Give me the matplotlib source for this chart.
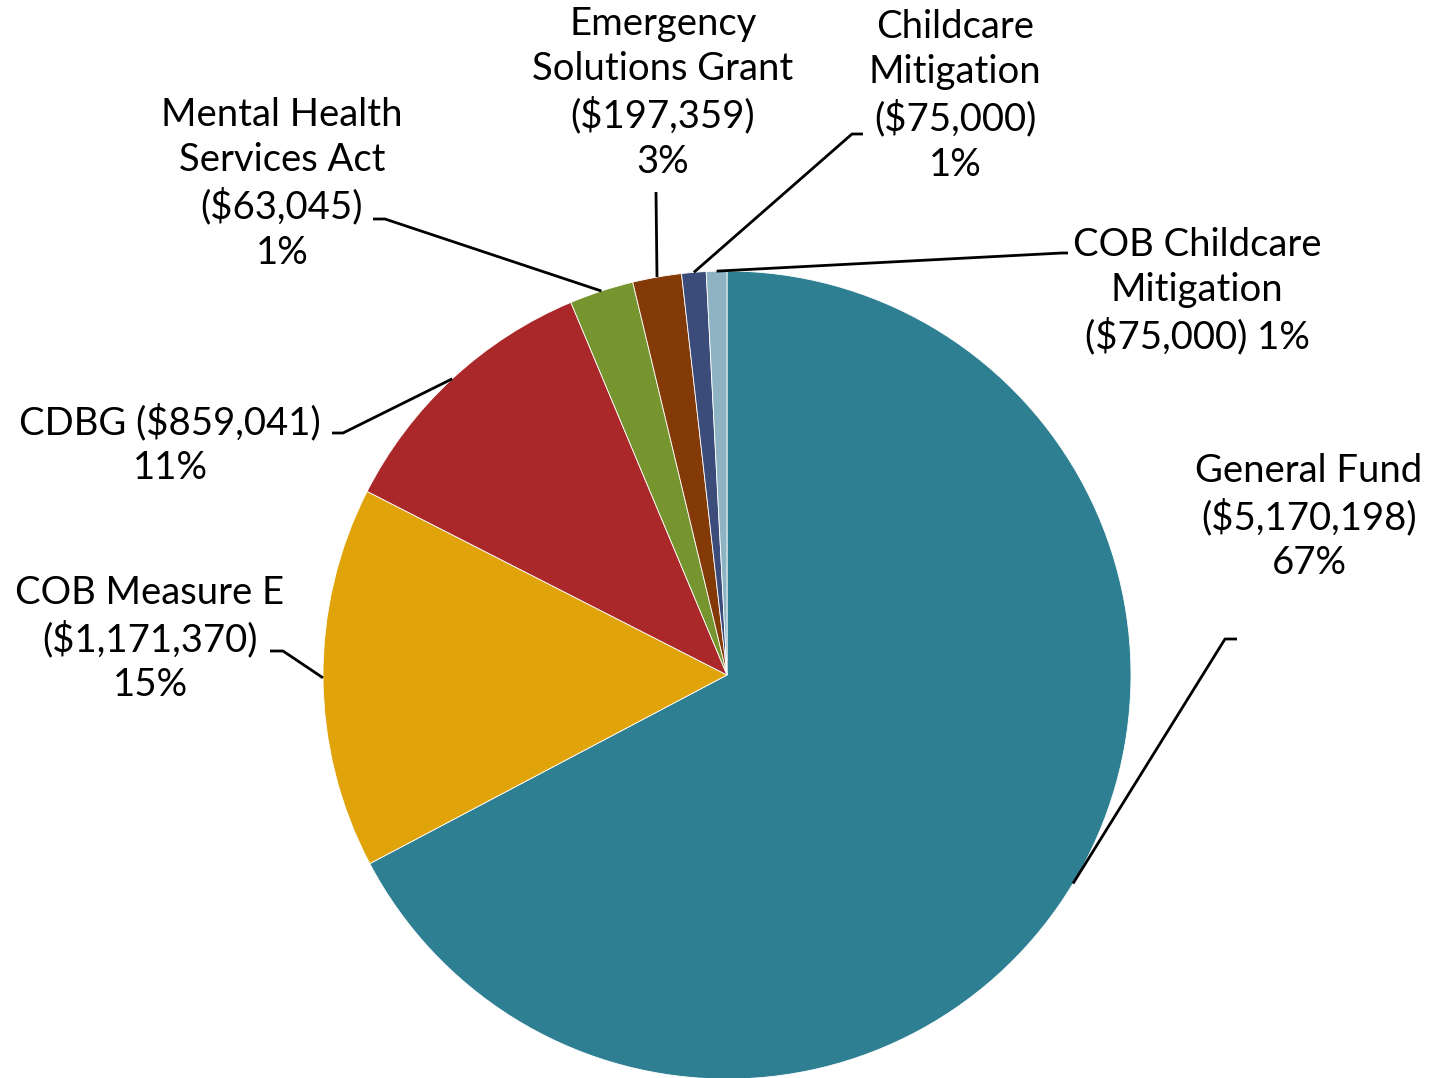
import matplotlib

matplotlib.use("Agg")
import matplotlib.pyplot as plt
import numpy as np

# slice sizes as drawn in the chart (clockwise from 12 o'clock)
slice_values = [5170198, 1171370, 859041, 197359, 150000, 75000, 63045]
colors = ["#2E7F92", "#E0A30A", "#AA282A", "#77952E", "#833A06", "#3C4C7A", "#8EB4C4"]

# label texts as printed next to each slice
names = [
    "General Fund",
    "COB Measure E",
    "CDBG",
    "Mental Health\nServices Act",
    "Emergency\nSolutions Grant",
    "Childcare\nMitigation",
    "COB Childcare\nMitigation",
]
amounts = ["$5,170,198", "$1,171,370", "$859,041", "$63,045", "$197,359", "$75,000", "$75,000"]
pcts = [67, 15, 11, 1, 3, 1, 1]
name_sep = ["\n", "\n", " ", "\n", "\n", "\n", "\n"]
pct_sep = ["\n", "\n", "\n", "\n", "\n", "\n", " "]

# layout in pixel coords (y measured from top)
W, H = 1433, 1078
CX, CY, R = 727, 675, 404
label_xy = [(1309, 517), (150, 639), (170, 445), (282, 184), (663, 93), (955, 96), (1197, 291)]
leader_start = [(1237, 639), (270, 651), (332, 433), (373, 219), (656, 192), (863, 134), (1068, 253)]
leader_elbow = [(1225, 639), (283, 651), (343, 433), (385, 219), (656, 192), (852, 134), (1062, 253)]

plt.rcParams["font.family"] = ["Lato", "DejaVu Sans"]

fig = plt.figure(figsize=(W / 100, H / 100), dpi=100)
ax = fig.add_axes([0, 0, 1, 1])

wedges, _ = ax.pie(
    slice_values,
    colors=colors,
    startangle=90,
    counterclock=False,
    center=(CX, H - CY),
    radius=R,
    wedgeprops=dict(edgecolor="white", linewidth=0.6),
)
ax.set_xlim(0, W)
ax.set_ylim(0, H)
ax.set_aspect("equal")
ax.axis("off")

for i, w in enumerate(wedges):
    # leader line: short tick at the label, then straight to the slice edge
    mid = np.deg2rad((w.theta1 + w.theta2) / 2)
    px = CX + R * np.cos(mid)
    py = (H - CY) + R * np.sin(mid)
    xs = [leader_start[i][0], leader_elbow[i][0], px]
    ys = [H - leader_start[i][1], H - leader_elbow[i][1], py]
    ax.plot(xs, ys, color="black", linewidth=2, solid_capstyle="butt", zorder=3)

    txt = f"{names[i]}{name_sep[i]}({amounts[i]}){pct_sep[i]}{pcts[i]}%"
    ax.text(
        label_xy[i][0],
        H - label_xy[i][1],
        txt,
        ha="center",
        va="center",
        fontsize=27.5,
        linespacing=1.31,
        color="black",
    )

fig.savefig("out.png", dpi=100)
plt.close(fig)
